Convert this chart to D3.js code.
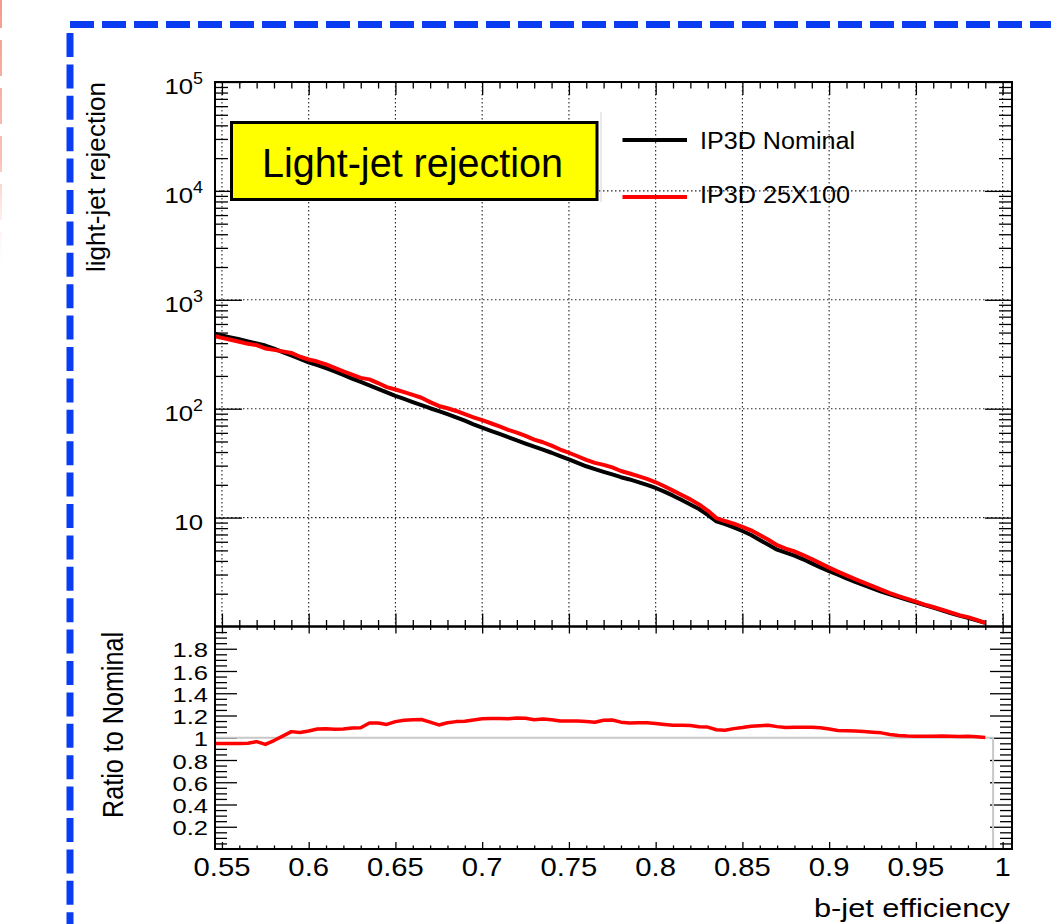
<!DOCTYPE html>
<html>
<head>
<meta charset="utf-8">
<script src="https://cdn.jsdelivr.net/npm/d3@7"></script>
<style>
  body { margin: 0; background: #fff; }
  text { font-family: "Liberation Sans", Arial, Helvetica, sans-serif; fill: #000; }
</style>
</head>
<body>
<svg id="chart" width="1051" height="924"></svg>
<script>
// b-jet efficiency working points
const efficiency = [
  0.546, 0.550, 0.555, 0.560, 0.565, 0.570, 0.575, 0.580, 0.585, 0.590,
  0.595, 0.600, 0.605, 0.610, 0.615, 0.620, 0.625, 0.630, 0.635, 0.640,
  0.645, 0.650, 0.655, 0.660, 0.665, 0.670, 0.675, 0.680, 0.685, 0.690,
  0.695, 0.700, 0.705, 0.710, 0.715, 0.720, 0.725, 0.730, 0.735, 0.740,
  0.745, 0.750, 0.755, 0.760, 0.765, 0.770, 0.775, 0.780, 0.785, 0.790,
  0.795, 0.800, 0.805, 0.810, 0.815, 0.820, 0.825, 0.830, 0.835, 0.840,
  0.845, 0.850, 0.855, 0.860, 0.865, 0.870, 0.875, 0.880, 0.885, 0.890,
  0.895, 0.900, 0.905, 0.910, 0.915, 0.920, 0.925, 0.930, 0.935, 0.940,
  0.945, 0.950, 0.955, 0.960, 0.965, 0.970, 0.975, 0.980, 0.985, 0.990
];

// light-jet rejection, IP3D Nominal
const rejectionNominal = [
  488, 471, 452, 434, 415, 398, 380, 356, 331, 308,
  286, 267, 251, 236, 220, 204, 189, 176, 164, 152,
  141, 131, 123, 115, 108, 101, 95.1, 89.1, 83.2, 77.6,
  71.9, 67.0, 62.7, 58.6, 54.7, 51.3, 47.9, 44.8, 42.1, 39.4,
  36.7, 34.3, 31.8, 29.6, 27.9, 26.3, 24.9, 23.5, 22.4, 21.2,
  20.0, 18.7, 17.3, 15.9, 14.5, 13.2, 12.0, 10.6, 9.23, 8.71,
  8.13, 7.53, 6.92, 6.24, 5.62, 5.07, 4.76, 4.47, 4.14, 3.80,
  3.49, 3.22, 2.99, 2.77, 2.57, 2.40, 2.24, 2.09, 1.97, 1.86,
  1.76, 1.67, 1.57, 1.49, 1.41, 1.33, 1.26, 1.20, 1.14, 1.08
];

// light-jet rejection, IP3D 25X100
const rejection25x100 = [
  463, 447, 429, 412, 394, 384, 357, 347, 336, 325,
  300, 283, 271, 255, 237, 220, 206, 192, 186, 172,
  158, 150, 142, 134, 126, 115, 106, 101, 95.3, 89.1,
  83.4, 78.4, 73.5, 68.7, 64.0, 60.4, 56.3, 52.1, 49.2, 45.8,
  42.2, 39.4, 36.6, 33.9, 31.8, 30.5, 28.9, 26.8, 25.4, 24.0,
  22.7, 21.1, 19.4, 17.7, 16.1, 14.7, 13.2, 11.6, 9.89, 9.30,
  8.80, 8.22, 7.64, 6.91, 6.26, 5.58, 5.20, 4.89, 4.53, 4.16,
  3.80, 3.47, 3.19, 2.95, 2.72, 2.53, 2.35, 2.18, 2.03, 1.90,
  1.79, 1.69, 1.59, 1.51, 1.43, 1.35, 1.27, 1.22, 1.15, 1.08
];

// IP3D 25X100 / IP3D Nominal
const ratioToNominal = [
  0.949, 0.949, 0.949, 0.949, 0.950, 0.965, 0.940, 0.975, 1.015, 1.055,
  1.048, 1.060, 1.078, 1.080, 1.076, 1.078, 1.088, 1.090, 1.132, 1.133,
  1.120, 1.145, 1.158, 1.162, 1.164, 1.140, 1.115, 1.135, 1.145, 1.148,
  1.160, 1.170, 1.172, 1.172, 1.170, 1.177, 1.175, 1.162, 1.168, 1.162,
  1.150, 1.150, 1.150, 1.145, 1.140, 1.158, 1.160, 1.140, 1.133, 1.134,
  1.134, 1.128, 1.120, 1.112, 1.113, 1.110, 1.098, 1.096, 1.072, 1.068,
  1.082, 1.092, 1.104, 1.108, 1.113, 1.100, 1.092, 1.094, 1.095, 1.094,
  1.090, 1.078, 1.066, 1.064, 1.060, 1.056, 1.050, 1.044, 1.030, 1.020,
  1.016, 1.014, 1.013, 1.013, 1.016, 1.014, 1.011, 1.014, 1.010, 1.003
];

// nominal/nominal reference histogram: value and upper bin edge
const referenceRatio = 1;
const referenceEdge = 0.9945;

const xTicks = [0.55, 0.6, 0.65, 0.7, 0.75, 0.8, 0.85, 0.9, 0.95, 1];
const xTickLabels = ["0.55", "0.6", "0.65", "0.7", "0.75", "0.8", "0.85", "0.9", "0.95", "1"];
const yDecades = [10, 100, 1000, 10000, 100000];
const yDecadeExponents = [null, "2", "3", "4", "5"];
const ratioTicks = [0.2, 0.4, 0.6, 0.8, 1, 1.2, 1.4, 1.6, 1.8];
const ratioTickLabels = ["0.2", "0.4", "0.6", "0.8", "1", "1.2", "1.4", "1.6", "1.8"];

const legendEntries = ["IP3D Nominal", "IP3D 25X100"];
const seriesColors = ["#000000", "#ff0000"];

const svg = d3.select("#chart");

// page decorations: fading salmon dashed edge and blue dashed frame
const defs = svg.append("defs");
const fade = defs.append("linearGradient").attr("id", "fade")
  .attr("gradientUnits", "userSpaceOnUse")
  .attr("x1", 0).attr("y1", 0).attr("x2", 0).attr("y2", 265);
fade.append("stop").attr("offset", "0").attr("stop-color", "#f59a88").attr("stop-opacity", 1);
fade.append("stop").attr("offset", "0.6").attr("stop-color", "#f7b0a2").attr("stop-opacity", 0.8);
fade.append("stop").attr("offset", "1").attr("stop-color", "#fde6e1").attr("stop-opacity", 0);
svg.append("path").attr("d", "M1,-8V265")
  .attr("stroke", "url(#fade)").attr("stroke-width", 2)
  .attr("stroke-dasharray", "36 12").attr("fill", "none");

svg.append("path").attr("d", "M70,24.5H1060")
  .attr("stroke", "#0a3cf2").attr("stroke-width", 7)
  .attr("stroke-dasharray", "24 8").attr("fill", "none");
svg.append("path").attr("d", "M70,33V940")
  .attr("stroke", "#0a3cf2").attr("stroke-width", 7)
  .attr("stroke-dasharray", "24 7.4").attr("fill", "none");

// scales
const left = 215, right = 1012;
const topY = 82, midY = 626.5, botY = 849;
const x = d3.scaleLinear().domain([0.546, 1.0054]).range([left, right]);
const yRej = d3.scaleLog().domain([1, 1e5]).range([midY, topY]);
const yRatio = d3.scaleLinear().domain([0, 2]).range([botY, midY]);

const xMinor = d3.range(0.55, 1.0001, 0.01).map(v => +v.toFixed(2)).filter(v => !xTicks.includes(v));
const logMinor = yRej.ticks().filter(v => v > 1 && v < 1e5 && !yDecades.includes(v));
const ratioMinor = d3.range(0.05, 2, 0.05).map(v => +v.toFixed(2)).filter(v => !ratioTicks.map(t => t.toFixed(2)).includes(v.toFixed(2)));

// dotted grid of the upper pad
const grid = svg.append("g").attr("stroke", "#222").attr("stroke-width", 1.1)
  .attr("stroke-dasharray", "1.5 2.5").attr("fill", "none");
xTicks.forEach(v => grid.append("line").attr("x1", x(v)).attr("x2", x(v)).attr("y1", topY).attr("y2", midY));
yDecades.slice(0, 4).forEach(v => grid.append("line").attr("x1", left).attr("x2", right).attr("y1", yRej(v)).attr("y2", yRej(v)));

// tick marks drawn through d3 axes, pointing inward
function ticks(axisFn, scale, values, size, transform) {
  const g = svg.append("g").attr("transform", transform)
    .call(axisFn(scale).tickValues(values).tickSize(size).tickFormat(""));
  g.select(".domain").remove();
  g.selectAll(".tick line").attr("stroke", "#000").attr("stroke-width", 1.3);
  return g;
}
// upper pad
ticks(d3.axisBottom, x, xTicks, -13, `translate(0,${midY})`);
ticks(d3.axisBottom, x, xMinor, -6.5, `translate(0,${midY})`);
ticks(d3.axisTop, x, xTicks, -13, `translate(0,${topY})`);
ticks(d3.axisTop, x, xMinor, -6.5, `translate(0,${topY})`);
ticks(d3.axisLeft, yRej, yDecades, -27, `translate(${left},0)`);
ticks(d3.axisLeft, yRej, logMinor, -13, `translate(${left},0)`);
ticks(d3.axisRight, yRej, yDecades, -27, `translate(${right},0)`);
ticks(d3.axisRight, yRej, logMinor, -13, `translate(${right},0)`);
// ratio pad
ticks(d3.axisTop, x, xTicks, -7, `translate(0,${midY})`);
ticks(d3.axisTop, x, xMinor, -3.5, `translate(0,${midY})`);
ticks(d3.axisBottom, x, xTicks, -7, `translate(0,${botY})`);
ticks(d3.axisBottom, x, xMinor, -3.5, `translate(0,${botY})`);
ticks(d3.axisLeft, yRatio, ratioTicks, -22, `translate(${left},0)`);
ticks(d3.axisLeft, yRatio, ratioMinor, -12, `translate(${left},0)`);
ticks(d3.axisRight, yRatio, ratioTicks, -22, `translate(${right},0)`);
ticks(d3.axisRight, yRatio, ratioMinor, -12, `translate(${right},0)`);

// reference histogram in the ratio pad
svg.append("path")
  .attr("d", `M${left},${yRatio(referenceRatio)}H${x(referenceEdge)}V${botY}`)
  .attr("stroke", "#c8c8c8").attr("stroke-width", 2).attr("fill", "none");

// rejection curves
const rejLine = d3.line().x((d, i) => x(efficiency[i])).y(d => yRej(d));
[rejectionNominal, rejection25x100].forEach((series, k) => {
  svg.append("path").datum(series).attr("d", rejLine)
    .attr("fill", "none").attr("stroke", seriesColors[k])
    .attr("stroke-width", 4).attr("stroke-linejoin", "round");
});

// ratio curve
const ratioLine = d3.line().x((d, i) => x(efficiency[i])).y(d => yRatio(d));
svg.append("path").datum(ratioToNominal).attr("d", ratioLine)
  .attr("fill", "none").attr("stroke", seriesColors[1])
  .attr("stroke-width", 3.5).attr("stroke-linejoin", "round");

// pad frames
svg.append("rect").attr("x", left).attr("y", topY).attr("width", right - left).attr("height", midY - topY)
  .attr("fill", "none").attr("stroke", "#000").attr("stroke-width", 2);
svg.append("rect").attr("x", left).attr("y", midY).attr("width", right - left).attr("height", botY - midY)
  .attr("fill", "none").attr("stroke", "#000").attr("stroke-width", 2);

// x tick labels under the ratio pad
xTicks.forEach((v, i) => {
  svg.append("text")
    .attr("transform", `translate(${x(v)},876) scale(1.17,1)`)
    .attr("text-anchor", "middle").attr("font-size", 25)
    .text(xTickLabels[i]);
});

// decade labels of the rejection axis
yDecades.forEach((v, i) => {
  const t = svg.append("text")
    .attr("transform", `translate(203,${yRej(v) + 12}) scale(1.12,1)`)
    .attr("text-anchor", "end").attr("font-size", 23);
  t.append("tspan").text("10");
  if (yDecadeExponents[i]) {
    t.append("tspan").attr("dy", -10).attr("font-size", 16).text(yDecadeExponents[i]);
  }
});

// ratio axis labels
ratioTicks.forEach((v, i) => {
  svg.append("text")
    .attr("transform", `translate(208,${yRatio(v) + 8.5}) scale(1.22,1)`)
    .attr("text-anchor", "end").attr("font-size", 21)
    .text(ratioTickLabels[i]);
});

// axis titles
svg.append("text")
  .attr("transform", `translate(104.5,${topY}) rotate(-90)`)
  .attr("text-anchor", "end").attr("font-size", 25)
  .attr("textLength", 190).attr("lengthAdjust", "spacingAndGlyphs")
  .text("light-jet rejection");
svg.append("text")
  .attr("transform", `translate(123,632) scale(1.15,1) rotate(-90)`)
  .attr("text-anchor", "end").attr("font-size", 25)
  .attr("textLength", 186).attr("lengthAdjust", "spacingAndGlyphs")
  .text("Ratio to Nominal");
svg.append("text")
  .attr("x", 1010).attr("y", 917)
  .attr("text-anchor", "end").attr("font-size", 25)
  .attr("textLength", 196).attr("lengthAdjust", "spacingAndGlyphs")
  .text("b-jet efficiency");

// title box
svg.append("rect").attr("x", 231.5).attr("y", 122.5).attr("width", 365.5).attr("height", 77)
  .attr("fill", "#ffff00").attr("stroke", "#000").attr("stroke-width", 3);
svg.append("text")
  .attr("x", 412.5).attr("y", 177)
  .attr("text-anchor", "middle").attr("font-size", 40)
  .attr("textLength", 301).attr("lengthAdjust", "spacingAndGlyphs")
  .text("Light-jet rejection");

// legend
svg.append("line").attr("x1", 601).attr("x2", 601).attr("y1", 112).attr("y2", 202)
  .attr("stroke", "#d4d4d4").attr("stroke-width", 1);
const legendRows = [{ lineY: 140, textY: 149.3, len: 155 }, { lineY: 197, textY: 203, len: 150 }];
legendEntries.forEach((name, i) => {
  const r = legendRows[i];
  svg.append("line").attr("x1", 622.5).attr("x2", 687).attr("y1", r.lineY).attr("y2", r.lineY)
    .attr("stroke", seriesColors[i]).attr("stroke-width", 4);
  svg.append("text").attr("x", 700).attr("y", r.textY)
    .attr("font-size", 23).attr("textLength", r.len).attr("lengthAdjust", "spacingAndGlyphs")
    .text(name);
});
</script>
</body>
</html>
